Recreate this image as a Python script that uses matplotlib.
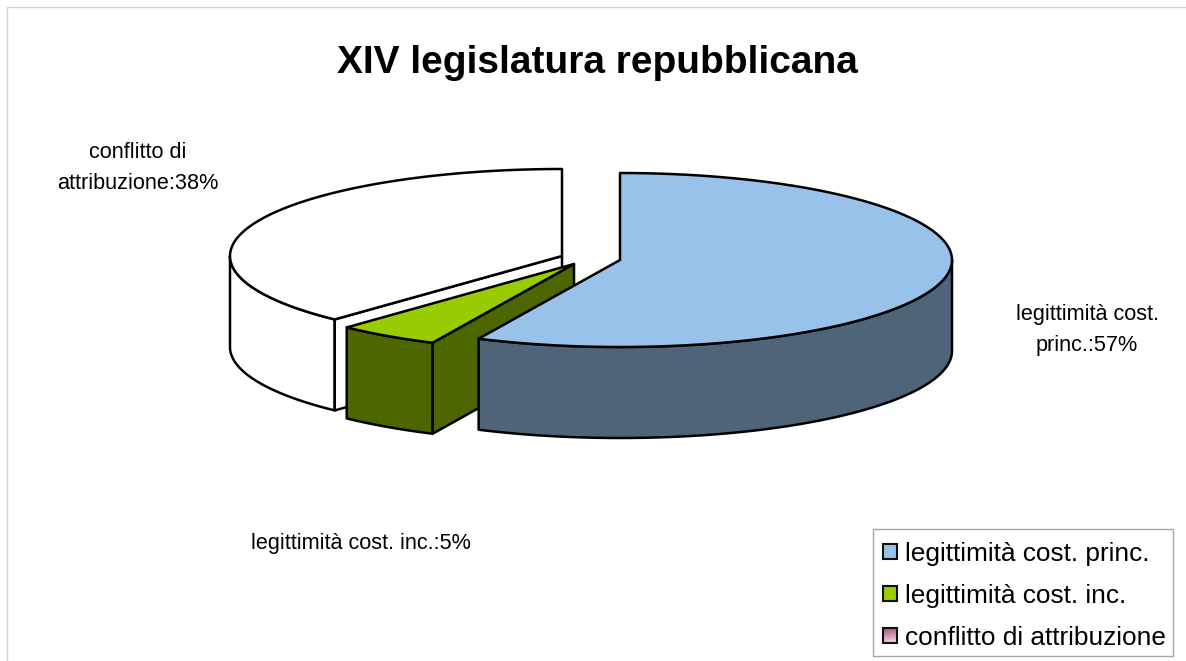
import numpy as np
import matplotlib
matplotlib.use("Agg")
import matplotlib.pyplot as plt
from matplotlib.patches import Rectangle
from matplotlib.colors import LinearSegmentedColormap

plt.rcParams['font.family'] = ['Liberation Sans', 'DejaVu Sans']

# Data
title = "XIV legislatura repubblicana"
categories = ["legittimità cost. princ.", "legittimità cost. inc.", "conflitto di attribuzione"]
shares = [57, 5, 38]
slice_labels = ["legittimità cost.\nprinc.:57%", "legittimità cost. inc.:5%", "conflitto di\nattribuzione:38%"]

# Style
top_colors = ["#99C2EB", "#99CC00", "#FFFFFF"]
side_colors = ["#4F6379", "#4D6600", "#FFFFFF"]
centers = [(620, 260), (574, 264), (562, 256)]  # exploded apex of each slice, px
label_pos = [(1087, 330), (361, 544), (138, 168)]
rx, ry = 332, 87
depth = 91
edge_lw = 1.8

fig = plt.figure(figsize=(11.86, 6.61), dpi=100)
ax = fig.add_axes([0, 0, 1, 1])
ax.set_xlim(0, 1186)
ax.set_ylim(661, 0)
ax.axis("off")

# Frame of the pasted chart, only left and top are visible
ax.plot([6.5, 6.5, 1186], [661, 6.5, 6.5], color="#D4D4D4", lw=1.0)

ax.text(597, 63, title, ha="center", va="center", fontsize=28, fontweight="bold")


def rim(center, a0, a1, drop=0):
    # angles clockwise from 12 o'clock, on the projected ellipse
    t = np.radians(np.linspace(a0, a1, 200))
    return center[0] + rx * np.sin(t), center[1] - ry * np.cos(t) + drop


def draw_slice(i, start, end):
    cx, cy = centers[i]
    # visible outer wall: the front half of the rim
    w0, w1 = max(start, 90), min(end, 270)
    if w1 > w0:
        x, y = rim(centers[i], w0, w1)
        xb, yb = rim(centers[i], w1, w0, depth)
        ax.fill(np.r_[x, xb], np.r_[y, yb], fc=side_colors[i], ec="black", lw=edge_lw, joinstyle="round")
    # cut face on the clockwise-start side, only seen when it looks at the viewer
    if 90 < start < 270:
        x0, y0 = rim(centers[i], start, start)
        ax.fill([cx, x0[0], x0[0], cx], [cy, y0[0], y0[0] + depth, cy + depth],
                fc=side_colors[i], ec="black", lw=edge_lw, joinstyle="round")
    # top face
    x, y = rim(centers[i], start, end)
    ax.fill(np.r_[cx, x], np.r_[cy, y], fc=top_colors[i], ec="black", lw=edge_lw, joinstyle="round")


# Slices run clockwise from the top, painted back to front
ends = np.cumsum(shares) / np.sum(shares) * 360
starts = np.r_[0, ends[:-1]]
for i in [2, 1, 0]:
    draw_slice(i, starts[i], ends[i])

for (x, y), lab in zip(label_pos, slice_labels):
    ax.text(x, y, lab, ha="center", va="center", fontsize=15.6, linespacing=1.6)

# Legend box
ax.add_patch(Rectangle((872.5, 528.5), 300, 127, fc="white", ec="#A6A6A6", lw=1.0))
gradient = LinearSegmentedColormap.from_list("pink", ["#A0507E", "#F0D0DE"])
for i, lab in enumerate(categories):
    y = 551 + i * 42
    if i == 2:
        ax.imshow(np.linspace(0, 1, 64).reshape(8, 8), cmap=gradient, aspect="auto",
                  extent=(882.5, 896.5, y + 7.5, y - 7.5), zorder=3)
        ax.add_patch(Rectangle((882.5, y - 7.5), 14, 15, fc="none", ec="#111111", lw=1.5, zorder=4))
    else:
        ax.add_patch(Rectangle((882.5, y - 7.5), 14, 15, fc=top_colors[i], ec="#111111", lw=1.5, zorder=4))
    ax.text(905, y + 3, lab, ha="left", va="center", fontsize=18.9, zorder=4)

ax.set_xlim(0, 1186)
ax.set_ylim(661, 0)
fig.savefig("out.png", dpi=100, facecolor="white")
